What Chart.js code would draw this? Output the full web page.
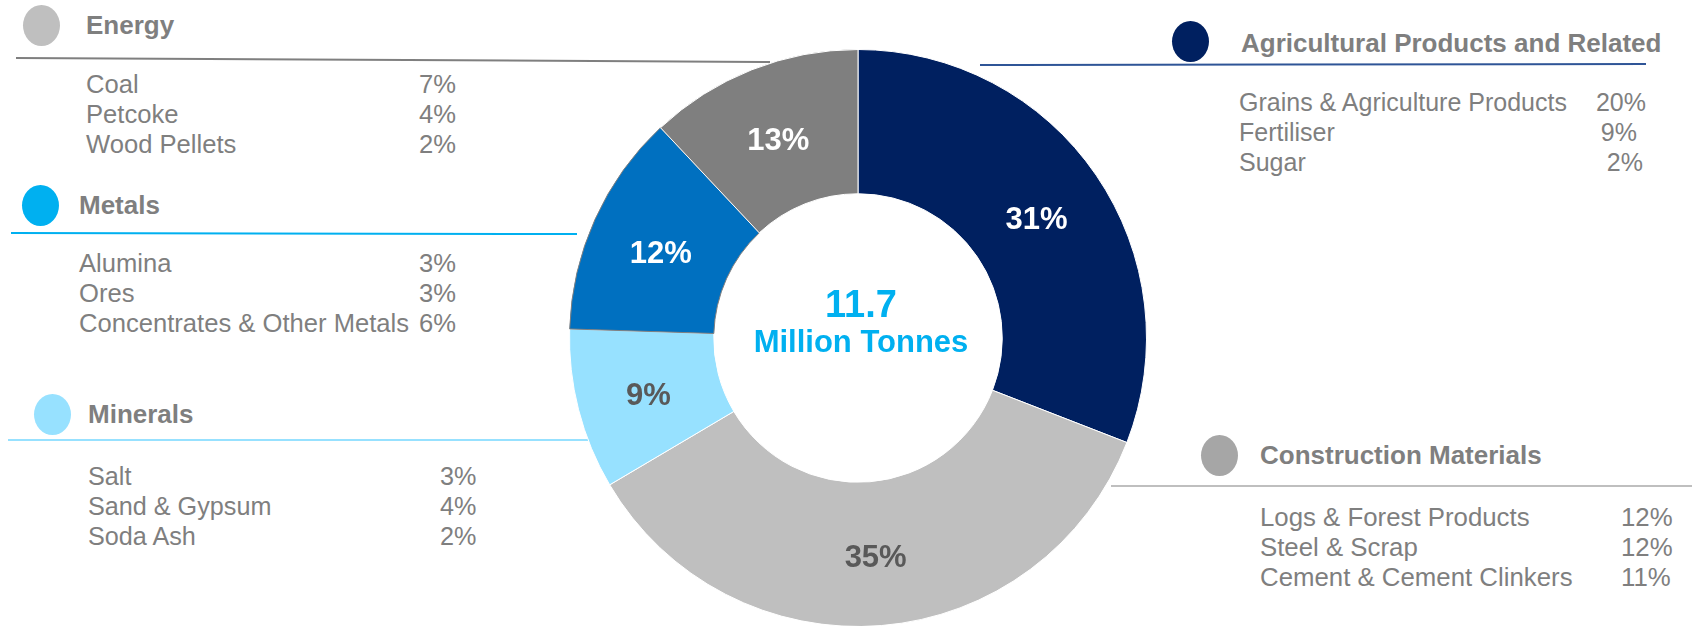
<!DOCTYPE html>
<html lang="en">
<head>
  <meta charset="UTF-8" />
  <title>Cargo Mix</title>
  <script src="https://cdn.jsdelivr.net/npm/chart.js"></script>
  <style>
    html, body { margin: 0; padding: 0; width: 1692px; height: 626px; overflow: hidden; background: #fff; }
    body { position: relative; font-family: "Liberation Sans", Arial, sans-serif; color: #7f7f7f; }
    .abs { position: absolute; white-space: nowrap; }
    .dot { position: absolute; border-radius: 50%; width: 37px; height: 41px; }
    .title { font-weight: bold; font-size: 26px; line-height: 30px; }
    .item { line-height: 30px; }
    #chartBox { position: absolute; left: 569px; top: 49px; width: 578px; height: 578px; }
    #lines { position: absolute; left: 0; top: 0; }
    .center { position: absolute; left: 711px; width: 300px; text-align: center; color: #00b0f0; font-weight: bold; }
  </style>
</head>
<body>
  <svg id="lines" width="1692" height="626"></svg>
  <div id="chartBox"><canvas id="mix"></canvas></div>
  <div class="center" style="top: 281px; font-size: 38px; line-height: 46px;" id="total"></div>
  <div class="center" style="top: 324px; font-size: 31px; line-height: 36px;" id="unit"></div>

  <script>
    // donut: clockwise from 12 o'clock (slice sizes as drawn, printed labels separately)
    const categories = ["Agricultural Products and Related", "Construction Materials", "Minerals", "Metals", "Energy"];
    const shares = [30.9, 35.6, 9.0, 12.5, 12.0];
    const shareLabels = ["31%", "35%", "9%", "12%", "13%"];
    const totalVolume = "11.7";
    const totalUnit = "Million Tonnes";

    const agriItems = ["Grains & Agriculture Products", "Fertiliser", "Sugar"];
    const agriShares = [20, 9, 2];
    const constructionItems = ["Logs & Forest Products", "Steel & Scrap", "Cement & Cement Clinkers"];
    const constructionShares = [12, 12, 11];
    const mineralsItems = ["Salt", "Sand & Gypsum", "Soda Ash"];
    const mineralsShares = [3, 4, 2];
    const metalsItems = ["Alumina", "Ores", "Concentrates & Other Metals"];
    const metalsShares = [3, 3, 6];
    const energyItems = ["Coal", "Petcoke", "Wood Pellets"];
    const energyShares = [7, 4, 2];

    const sliceColors = ["#002060", "#bfbfbf", "#97e1ff", "#0070c0", "#7f7f7f"];
    const sliceLabelColors = ["#ffffff", "#595959", "#595959", "#ffffff", "#ffffff"];

    document.getElementById("total").textContent = totalVolume;
    document.getElementById("unit").textContent = totalUnit;

    // side panels
    const panels = [
      { title: categories[4], items: energyItems, vals: energyShares, dot: "#bfbfbf", line: "#7f7f7f", fs: 25.6,
        dx: 41, dy: 25, tx: 86, ty: 25, l: [16, 58, 770, 62], ix: 86, iy: 84, px: 419 },
      { title: categories[3], items: metalsItems, vals: metalsShares, dot: "#00b0f0", line: "#00b0f0", fs: 25.6,
        dx: 40, dy: 205, tx: 79, ty: 205, l: [11, 233, 577, 234], ix: 79, iy: 263, px: 419 },
      { title: categories[2], items: mineralsItems, vals: mineralsShares, dot: "#97e1ff", line: "#97e1ff", fs: 25.2,
        dx: 52, dy: 414, tx: 88, ty: 414, l: [8, 440, 604, 440], ix: 88, iy: 476, px: 440 },
      { title: categories[0], items: agriItems, vals: agriShares, dot: "#002060", line: "#2f5597", fs: 25,
        dx: 1190, dy: 41, tx: 1241, ty: 43, l: [980, 65, 1646, 64], ix: 1239, iy: 102, pr: [1646, 1637, 1643] },
      { title: categories[1], items: constructionItems, vals: constructionShares, dot: "#a6a6a6", line: "#bfbfbf", fs: 25.8,
        dx: 1219, dy: 455, tx: 1260, ty: 455, l: [1111, 486, 1692, 486], ix: 1260, iy: 517, px: 1621 }
    ];

    const svg = document.getElementById("lines");
    panels.forEach(p => {
      const dot = document.createElement("div");
      dot.className = "dot";
      dot.style.left = (p.dx - 18.5) + "px";
      dot.style.top = (p.dy - 20.5) + "px";
      dot.style.background = p.dot;
      document.body.appendChild(dot);

      const t = document.createElement("div");
      t.className = "abs title";
      t.style.left = p.tx + "px";
      t.style.top = (p.ty - 15) + "px";
      t.textContent = p.title;
      document.body.appendChild(t);

      const ln = document.createElementNS("http://www.w3.org/2000/svg", "line");
      ln.setAttribute("x1", p.l[0]); ln.setAttribute("y1", p.l[1]);
      ln.setAttribute("x2", p.l[2]); ln.setAttribute("y2", p.l[3]);
      ln.setAttribute("stroke", p.line); ln.setAttribute("stroke-width", "2");
      svg.appendChild(ln);

      p.items.forEach((name, i) => {
        const y = p.iy + i * 30 - 15;
        const a = document.createElement("div");
        a.className = "abs item";
        a.style.fontSize = p.fs + "px";
        a.style.left = p.ix + "px";
        a.style.top = y + "px";
        a.textContent = name;
        document.body.appendChild(a);

        const b = document.createElement("div");
        b.className = "abs item";
        b.style.fontSize = p.fs + "px";
        if (p.pr) { b.style.right = (1692 - p.pr[i]) + "px"; } else { b.style.left = p.px + "px"; }
        b.style.top = y + "px";
        b.textContent = p.vals[i] + "%";
        document.body.appendChild(b);
      });
    });

    const sliceLabels = {
      id: "sliceLabels",
      afterDatasetsDraw(chart) {
        const ctx = chart.ctx;
        const meta = chart.getDatasetMeta(0);
        ctx.save();
        ctx.font = "bold 31px 'Liberation Sans', Arial, sans-serif";
        ctx.textAlign = "center";
        ctx.textBaseline = "middle";
        meta.data.forEach((arc, i) => {
          const pos = arc.tooltipPosition();
          ctx.fillStyle = sliceLabelColors[i];
          ctx.fillText(shareLabels[i], pos.x, pos.y + 5);
        });
        ctx.restore();
      }
    };

    new Chart(document.getElementById("mix"), {
      type: "doughnut",
      data: {
        labels: categories,
        datasets: [{
          data: shares,
          backgroundColor: sliceColors,
          borderColor: ["#ffffff", "#ffffff", "#ffffff", "#7f7f7f", "#ffffff"],
          borderWidth: 1
        }]
      },
      options: {
        responsive: true,
        maintainAspectRatio: false,
        animation: false,
        cutout: "50%",
        layout: { padding: 0 },
        plugins: { legend: { display: false }, tooltip: { enabled: false } }
      },
      plugins: [sliceLabels]
    });
  </script>
</body>
</html>
